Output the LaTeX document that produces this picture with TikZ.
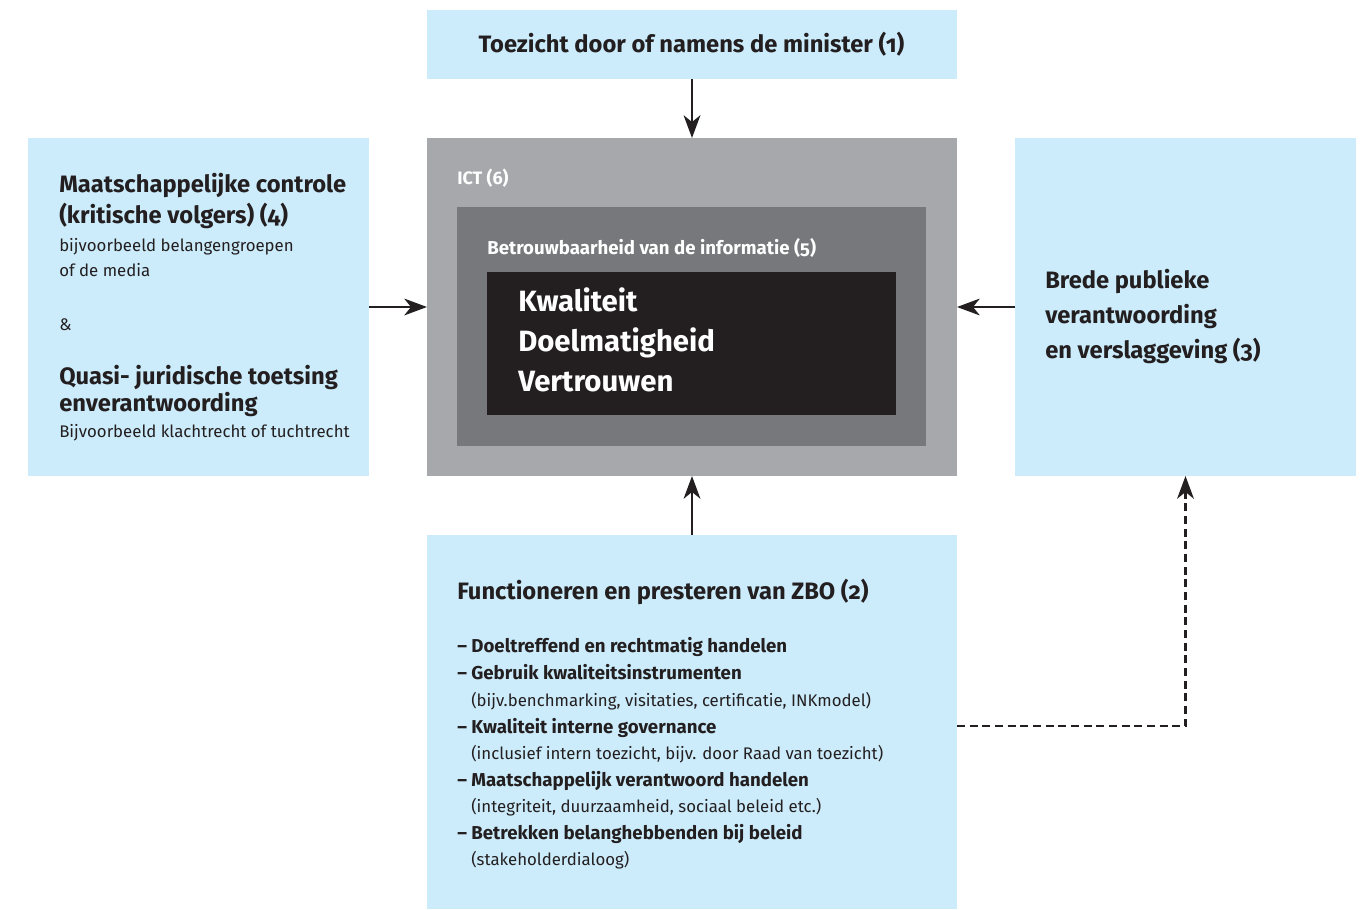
\documentclass[tikz,border=0pt]{standalone}
\usepackage{fontspec}
\setmainfont{Fira Sans}[Numbers=OldStyle]
\usetikzlibrary{fit,arrows.meta}
\definecolor{lblue}{HTML}{CCECFB}
\definecolor{gray1}{HTML}{A7A8AC}
\definecolor{gray2}{HTML}{77787B}
\definecolor{dark}{HTML}{231F20}
\definecolor{ink}{HTML}{231F20}
\tikzset{
  panel/.style={inner sep=0pt, outer sep=0pt, draw=none},
  txt/.style={anchor=base west, inner sep=0pt, text=ink},
  wtxt/.style={anchor=base west, inner sep=0pt, text=white},
  arr/.style={draw=ink, line width=2.1pt, -{Stealth[length=17pt,width=12.5pt,inset=5pt]}},
  darr/.style={arr, dashed, dash pattern=on 6pt off 3.5pt},
  hd/.style={font=\fontsize{17.8}{20}\selectfont\bfseries},
  sm/.style={font=\fontsize{12.6}{14}\selectfont},
  li/.style={font=\fontsize{14}{16}\selectfont\bfseries},
}
\begin{document}
\begin{tikzpicture}[x=0.75pt,y=-0.75pt]
\useasboundingbox (0,0) rectangle (1364,910);
% panels
\node[panel, fill=lblue, fit={(427,10) (957,79)}] (top) {};
\node[panel, fill=lblue, fit={(28,138) (369,476)}] (left) {};
\node[panel, fill=gray1, fit={(427,138) (957,476)}] (ict) {};
\node[panel, fill=gray2, fit={(457,207) (926,446)}] (info) {};
\node[panel, fill=dark, fit={(487,272) (896,415)}] (core) {};
\node[panel, fill=lblue, fit={(1015,138) (1356,476)}] (right) {};
\node[panel, fill=lblue, fit={(427,535) (957,909)}] (bottom) {};
% top text
\node[inner sep=0pt, text=ink, hd] (toptxt) at (691.5,44) {Toezicht door of namens de minister (1)};
% left texts
\node[txt, hd] (l1) at (59,192) {Maatschappelijke controle};
\node[txt, hd] (l2) at (59,223) {(kritische volgers) (4)};
\node[txt, sm] (l3) at (59,251) {bijvoorbeeld belangengroepen};
\node[txt, sm] (l4) at (59,276) {of de media};
\node[txt, sm] (l5) at (59,330) {\&};
\node[txt, hd] (l6) at (59,384) {Quasi- juridische toetsing};
\node[txt, hd] (l7) at (59,411) {enverantwoording};
\node[txt, sm] (l8) at (59,437) {Bijvoorbeeld klachtrecht of tuchtrecht};
% center texts
\node[wtxt, font=\fontsize{13.5}{15}\selectfont\bfseries] (c1) at (457,184) {ICT (6)};
\node[wtxt, font=\fontsize{14}{16}\selectfont\bfseries] (c2) at (487,254) {Betrouwbaarheid van de informatie (5)};
\node[wtxt, font=\fontsize{22}{24}\selectfont\bfseries] (c3) at (518,311) {Kwaliteit};
\node[wtxt, font=\fontsize{22}{24}\selectfont\bfseries] (c4) at (518,351) {Doelmatigheid};
\node[wtxt, font=\fontsize{22}{24}\selectfont\bfseries] (c5) at (518,391) {Vertrouwen};
% right texts
\node[txt, hd] (r1) at (1045,288) {Brede publieke};
\node[txt, hd] (r2) at (1045,323) {verantwoording};
\node[txt, hd] (r3) at (1045,358) {en verslaggeving (3)};
% bottom texts
\node[txt, hd] (b0) at (457,599) {Functioneren en presteren van ZBO (2)};
\node[txt, li] (b1) at (457,652) {– Doeltreffend en rechtmatig handelen};
\node[txt, li] (b2) at (457,679) {– Gebruik kwaliteitsinstrumenten};
\node[txt, sm] (b3) at (471,706) {(bijv.benchmarking, visitaties, certificatie, INKmodel)};
\node[txt, li] (b4) at (457,733) {– Kwaliteit interne governance};
\node[txt, sm] (b5) at (471,759) {(inclusief intern toezicht, bijv. door Raad van toezicht)};
\node[txt, li] (b6) at (457,786) {– Maatschappelijk verantwoord handelen};
\node[txt, sm] (b7) at (471,812) {(integriteit, duurzaamheid, sociaal beleid etc.)};
\node[txt, li] (b8) at (457,839) {– Betrekken belanghebbenden bij beleid};
\node[txt, sm] (b9) at (471,865) {(stakeholderdialoog)};
% connectors
\draw[arr] (top.south) -- (ict.north);
\draw[arr] (left.east) -- (ict.west);
\draw[arr] (right.west) -- (ict.east);
\draw[arr] (bottom.north) -- (ict.south);
\coordinate (bend) at (1185.5,726);
\draw[darr] (bottom.east |- bend) -- (bend) -- (right.south);
\end{tikzpicture}
\end{document}
